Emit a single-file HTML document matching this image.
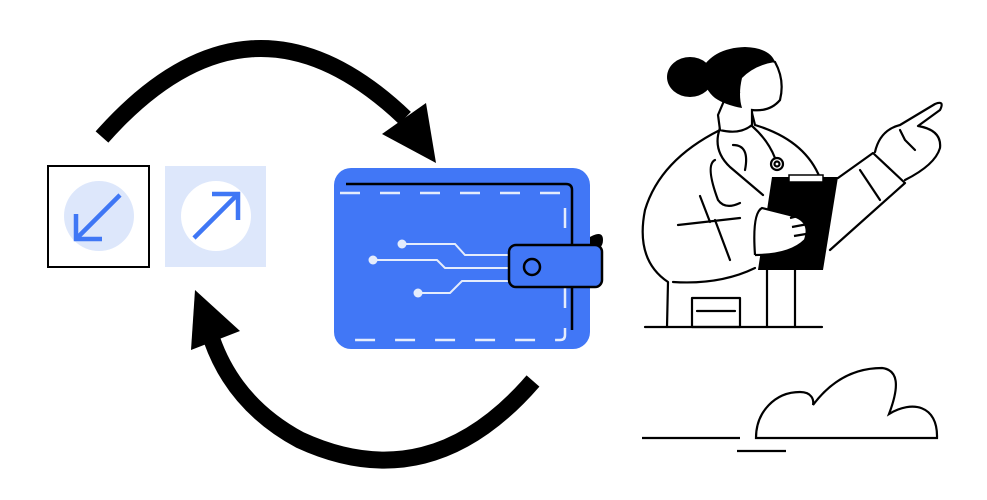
<!DOCTYPE html>
<html><head><style>html,body{margin:0;padding:0;background:#fff}svg{display:block}</style></head>
<body>
<svg width="987" height="500" viewBox="0 0 987 500" xmlns="http://www.w3.org/2000/svg">
<path d="M102,137 Q250,-30 405,118" fill="none" stroke="#000" stroke-width="17"/>
<polygon points="426,103 436,163 382,134" fill="#000"/>
<path d="M533,381 Q430,500 300,440 Q235,405 212,340" fill="none" stroke="#000" stroke-width="17"/>
<polygon points="195,290 240,331 191,350" fill="#000"/>
<rect x="48" y="166" width="101" height="101" fill="#fff" stroke="#000" stroke-width="2"/>
<circle cx="99" cy="216" r="35" fill="#dde7fb"/>
<path d="M120,195 L77,238 M76,214 L76,239 L102,239" stroke="#3f77f5" stroke-width="4.5" fill="none"/>
<rect x="165" y="166" width="101" height="101" fill="#dde7fb"/>
<circle cx="216" cy="216" r="35" fill="#fff"/>
<path d="M194,238 L237,195 M212,194 L238,194 L238,220" stroke="#3f77f5" stroke-width="4.5" fill="none"/>
<path d="M585,240 Q603,228 603,240 Q603,250 590,252 Z" fill="#000"/>
<rect x="334" y="168" width="256" height="181" rx="17" fill="#4177f6"/>
<path d="M346,184 L566,184 Q572,184 572,190 L572,330" fill="none" stroke="#000" stroke-width="2.5"/>
<path d="M340,193 L565,193 Q565,193 565,198 L565,335 Q565,340 560,340 L348,340" fill="none" stroke="#e4ecfc" stroke-width="2.5" stroke-dasharray="20,20"/>
<g stroke="#e4ecfc" stroke-width="2" fill="none">
<path d="M402,244 L455,244 L465,255 L515,255"/>
<path d="M373,260 L437,260 L445,268 L515,268"/>
<path d="M418,293 L450,293 L462,281 L515,281"/>
</g>
<g fill="#e4ecfc"><circle cx="402" cy="244" r="4.5"/><circle cx="373" cy="260" r="4.5"/><circle cx="418" cy="293" r="4.5"/></g>
<rect x="509" y="245" width="93" height="42" rx="7" fill="#4177f6" stroke="#000" stroke-width="2.5"/>
<circle cx="532" cy="267" r="8" fill="none" stroke="#000" stroke-width="2.5"/>
<g fill="none" stroke="#000" stroke-width="2.2" stroke-linejoin="round" stroke-linecap="round">
<path d="M645,327 L822,327"/>
<path d="M720,120 L720,130 Q660,160 645,210 Q635,260 668,282 L667,327"/>
<path d="M752,113 L755,125 Q805,140 820,178"/>
<path d="M673,282 Q720,285 755,268"/>
<path d="M767,270 L767,327 M795,270 L795,327"/>
<rect x="692" y="298" width="48" height="29"/>
<path d="M697,311 L735,311"/>
<path d="M720,128 Q712,150 730,167 L763,195"/>
<path d="M752,126 Q768,140 775,158"/>
<path d="M733,145 Q750,145 745,170"/>
<path d="M715,160 Q705,165 718,200 Q725,210 740,203"/>
<circle cx="777" cy="164" r="6"/>
<circle cx="777" cy="164" r="2.5"/>
<path d="M678,225 L740,218 M715,220 L730,260 M700,196 L710,222"/>
<path d="M838,178 L873,153 L905,183 L830,250"/>
<path d="M860,170 L880,200"/>
<path d="M875,152 Q880,130 900,125 L935,104 Q945,100 940,110 L918,126 Q942,130 940,148 Q935,165 905,180"/>
<path d="M905,140 L915,150 M900,130 L905,140"/>
</g>
<path d="M772,177 L838,177 L823,270 L758,270 Z" fill="#000"/>
<rect x="789" y="175" width="34" height="7" fill="#fff" stroke="#000" stroke-width="1.5"/>
<path d="M755,255 Q790,255 805,240 Q812,220 790,215 L762,208 Q752,213 755,255" fill="#fff" stroke="#000" stroke-width="2.2"/>
<path d="M790,218 L806,214 M792,227 L808,224 M794,236 L806,234" stroke="#000" stroke-width="2.2"/>
<ellipse cx="690" cy="77" rx="23" ry="20" fill="#000"/>
<path d="M718,115 L720,130 Q740,135 752,125 L752,110 Q770,112 780,100 Q785,80 775,62 Q760,55 735,75 Z" fill="#fff" stroke="#000" stroke-width="2.2"/>
<path d="M700,72 Q712,48 745,47 Q770,48 775,62 Q755,65 742,78 Q738,95 742,108 Q725,105 715,98 Q705,90 700,72 Z" fill="#000"/>
<path d="M740,92 Q733,94 738,100" fill="none" stroke="#000" stroke-width="2"/>
<g fill="none" stroke="#000" stroke-width="2.2">
<path d="M642,438 L740,438 M737,451 L786,451"/>
<path d="M756,438 C756,412 775,392 800,392 C812,392 814,400 813,405 C828,385 850,368 882,368 C898,370 900,385 889,414 C912,400 938,405 937,438 Z"/>
</g>
</svg>
</body></html>
